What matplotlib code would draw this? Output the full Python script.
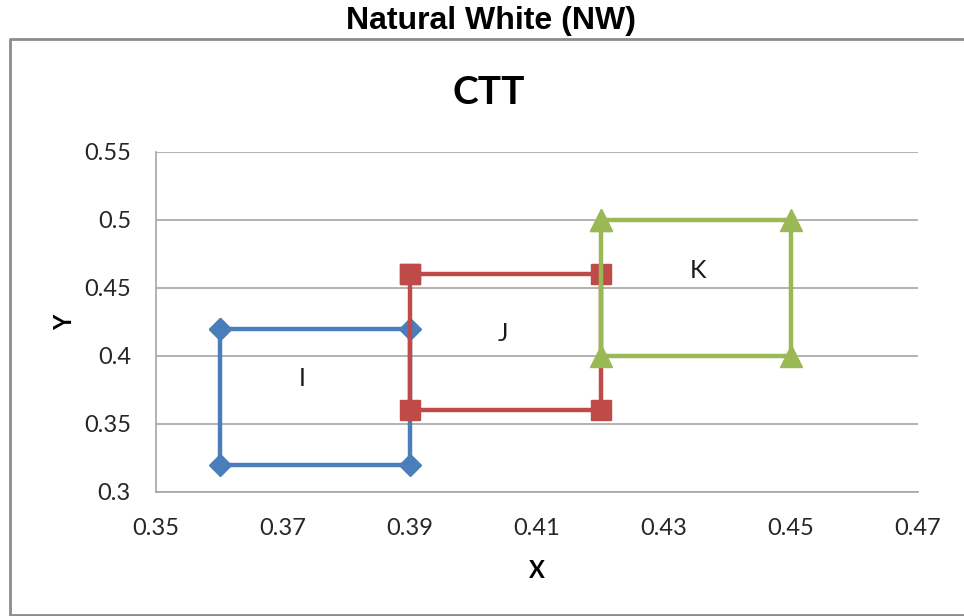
'''
plot.py
CTT boxes for Natural White (NW), drawn the way the spreadsheet chart had it.
'''

import matplotlib
matplotlib.use('Agg')
import matplotlib.pyplot as plt
from matplotlib.lines import Line2D

# corner points of each box, closed back to the first corner
I_x = [0.36, 0.39, 0.39, 0.36, 0.36]
I_y = [0.42, 0.42, 0.32, 0.32, 0.42]
J_x = [0.39, 0.42, 0.42, 0.39, 0.39]
J_y = [0.46, 0.46, 0.36, 0.36, 0.46]
K_x = [0.42, 0.45, 0.45, 0.42, 0.42]
K_y = [0.50, 0.50, 0.40, 0.40, 0.50]

# where the box names sit
box_names = ['I', 'J', 'K']
name_x = [0.3731, 0.4046, 0.4354]
name_y = [0.3838, 0.4169, 0.4625]

x_ticks = [0.35, 0.37, 0.39, 0.41, 0.43, 0.45, 0.47]
y_ticks = [0.3, 0.35, 0.4, 0.45, 0.5, 0.55]

blue  = '#4A7EBB'
red   = '#BE4B48'
green = '#98B954'
grey  = '#A6A6A6'

body_font = 'Lato'

fig = plt.figure(figsize=(9.64, 6.16), dpi=100)
ax = fig.add_axes([156/964, 124/616, 762/964, 340/616])

ax.plot(I_x, I_y, '-', color=blue, lw=3.2, marker='D', ms=11,
        solid_joinstyle='miter')
ax.plot(J_x, J_y, '-', color=red, lw=3.2, marker='s', ms=14,
        solid_joinstyle='miter')
ax.plot(K_x, K_y, '-', color=green, lw=3.2, marker='^', ms=16,
        solid_joinstyle='miter')

for name, x, y in zip(box_names, name_x, name_y):
    ax.text(x, y, name, fontsize=18, family=body_font,
            ha='center', va='center', color='#1a1a1a')

ax.set_xlim(0.35, 0.47)
ax.set_ylim(0.3, 0.55)
ax.set_xticks(x_ticks)
ax.set_yticks(y_ticks)
ax.set_xticklabels(['%g' % v for v in x_ticks])
ax.set_yticklabels(['%g' % v for v in y_ticks])
ax.tick_params(length=0, labelsize=17, colors='#262626')
ax.tick_params(axis='y', pad=18)
ax.tick_params(axis='x', pad=19)
for lab in ax.get_xticklabels() + ax.get_yticklabels():
    lab.set_family(body_font)

ax.grid(axis='y', color=grey, lw=1.2)
ax.set_axisbelow(True)
for side in ['top', 'right']:
    ax.spines[side].set_visible(False)
for side in ['left', 'bottom']:
    ax.spines[side].set_color(grey)
    ax.spines[side].set_linewidth(1.2)

ax.set_xlabel('X', fontsize=17, family=body_font, fontweight='bold',
              labelpad=14)
ax.set_ylabel('Y', fontsize=17, family=body_font, fontweight='bold',
              labelpad=6)

# chart title inside the frame
fig.text(489/964, 1 - 93/616, 'CTT', fontsize=28, family=body_font,
         fontweight='bold', ha='center', va='center')

# outer title and frame
fig.text(491/964, 1 - 21/616, 'Natural White (NW)', fontsize=23,
         family='Liberation Sans', fontweight='bold',
         ha='center', va='center')
frame_x = [1.2, 10/964, 10/964, 1.2]
frame_y = [1 - 39/616, 1 - 39/616, 1.5/616, 1.5/616]
fig.add_artist(Line2D(frame_x, frame_y, color='#8C8C8C', lw=2,
                      transform=fig.transFigure))

fig.savefig('out.png', dpi=100)
